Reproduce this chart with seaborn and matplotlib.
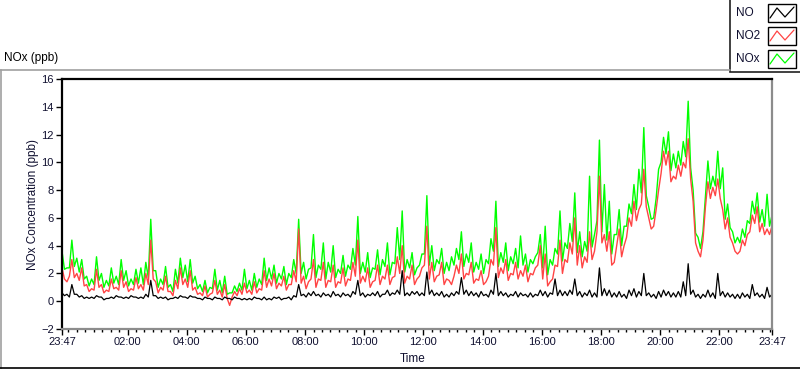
import numpy as np
import pandas as pd
import matplotlib
matplotlib.use("Agg")
import matplotlib.pyplot as plt
import seaborn as sns
from matplotlib.lines import Line2D
from matplotlib.patches import Rectangle

#DATA---------
# readings every 5 minutes, starting 23:47
no2 = [2.4, 1.6, 1.4, 1.8, 3.0, 1.7, 2.0, 1.5, 2.4, 1.1, 1.2, 0.7,
       0.9, 0.8, 2.3, 1.0, 1.2, 0.6, 0.8, 0.7, 1.6, 0.9, 1.0, 0.8,
       2.2, 1.0, 1.4, 0.7, 0.9, 0.8, 1.7, 0.9, 1.2, 0.8, 2.0, 1.2,
       4.4, 1.6, 1.4, 0.6, 1.0, 0.8, 1.8, 0.7, 0.7, 0.4, 1.5, 0.9,
       2.4, 1.2, 1.6, 1.0, 2.2, 0.8, 1.0, 0.5, 0.6, 0.4, 1.1, 0.3,
       0.5, 0.6, 1.5, 0.5, 0.8, 0.3, 1.2, 0.2, -0.3, 0.3, 0.7, 0.4,
       0.9, 0.5,
       1.3, 0.6, 0.8, 0.5, 1.4, 0.6, 0.9, 0.8, 2.2, 1.0, 1.6, 1.1,
       2.0, 0.9, 1.3, 1.1, 1.8, 0.8, 1.2, 1.2, 2.2, 1.4, 5.2, 1.3,
       1.8, 0.9, 1.4, 1.6, 3.0, 1.0, 1.6, 1.5, 2.8, 1.0, 1.5, 1.4,
       2.6, 1.0, 1.4, 1.3, 2.4, 1.1, 1.6, 1.5, 2.8, 1.8, 4.4, 1.3,
       1.8, 1.4, 2.4, 1.0, 1.4, 1.5, 2.6, 1.2, 1.8, 1.6, 2.6, 1.2,
       1.7, 1.8, 3.2, 2.0, 4.0, 1.3, 1.8, 1.6, 2.6, 1.2,
       1.6, 1.8, 2.4, 2.6, 5.4, 1.6, 2.8, 1.4, 1.8, 1.9, 2.8, 1.2,
       1.6, 1.5, 1.2, 1.8, 2.6, 2.0, 3.4, 1.6, 2.0, 1.9, 2.8, 1.3,
       1.6, 1.5, 2.2, 1.2, 1.4, 1.8, 3.0, 2.6, 5.3, 1.7, 2.4, 2.0,
       3.0, 1.5, 2.0, 1.9, 2.8, 1.6, 2.2, 1.8, 2.6, 1.4, 2.0, 1.9,
       2.4, 2.6, 4.0, 1.6, 3.4, 1.1, 1.4, 1.6, 2.6, 2.5, 4.4, 2.0,
       3.0, 2.8, 4.2, 3.4, 6.0, 2.6, 4.0, 2.4, 3.2, 2.8, 5.0, 3.0,
       3.6, 5.0, 9.0, 4.2, 4.8, 3.6, 5.0, 2.6, 2.8, 4.0, 5.2, 3.2,
       4.0, 4.6, 6.0, 5.4, 7.2, 5.8, 6.6, 7.0, 9.5, 6.8, 6.0, 5.2,
       5.4, 6.6, 8.0, 9.2, 10.8, 9.8, 10.8, 8.6, 9.0, 8.8, 9.8, 9.0,
       10.0, 9.6, 11.7, 8.8, 7.2, 4.2, 3.6, 3.2, 4.4, 6.8, 8.6, 7.4,
       8.2, 7.6, 8.8, 7.4, 6.6, 5.2, 6.0, 4.6, 4.2, 3.6, 3.4, 3.6,
       4.4, 4.0, 4.8, 5.0, 6.2, 5.6, 6.8, 5.0, 5.6, 4.8, 5.2, 4.8,
       5.4]

nox = [3.6, 2.3, 2.4, 2.4, 4.4, 2.5, 3.1, 2.1, 3.0, 1.6, 1.8, 1.1,
       1.6, 1.2, 3.2, 1.5, 2.0, 1.0, 1.5, 1.1, 2.4, 1.3, 1.8, 1.2,
       3.0, 1.5, 2.2, 1.1, 1.6, 1.2, 2.3, 1.3, 2.4, 1.2, 2.8, 1.7,
       5.9, 2.2, 2.2, 1.0, 1.6, 1.2, 2.5, 1.0, 1.2, 0.7, 2.3, 1.3,
       3.1, 1.7, 2.6, 1.4, 3.0, 1.3, 1.8, 0.9, 1.2, 0.7, 1.5, 0.6,
       1.0, 0.9, 2.3, 0.8, 1.5, 0.6, 1.8, 0.5, 0.6, 0.6, 1.1, 0.7,
       1.3, 0.8,
       2.3, 0.9, 1.5, 0.8, 2.0, 1.0, 1.6, 1.2, 3.1, 1.5, 2.4, 1.6,
       2.6, 1.3, 2.0, 1.6, 2.5, 1.2, 2.0, 1.7, 3.0, 2.0, 5.9, 2.0,
       2.8, 1.6, 2.3, 2.4, 4.8, 1.7, 2.6, 2.3, 4.2, 1.6, 2.8, 2.1,
       4.0, 1.7, 2.3, 2.0, 3.3, 1.8, 2.6, 2.3, 3.8, 2.6, 6.1, 2.0,
       2.8, 2.1, 3.5, 1.7, 2.4, 2.3, 3.7, 1.9, 3.0, 2.5, 4.2, 1.9,
       2.8, 2.7, 5.3, 3.0, 6.5, 2.1, 3.0, 2.4, 3.5, 1.9,
       2.4, 2.6, 3.4, 3.4, 7.6, 2.6, 4.0, 2.2, 3.0, 2.7, 3.8, 2.0,
       2.8, 2.2, 3.2, 2.6, 3.8, 3.0, 5.0, 2.5, 3.4, 2.8, 4.2, 2.1,
       2.8, 2.3, 3.4, 2.0, 3.0, 2.7, 4.5, 3.6, 7.2, 2.5, 3.5, 2.8,
       4.2, 2.2, 3.2, 2.7, 3.8, 2.4, 4.7, 2.6, 3.4, 2.1, 3.0, 2.7,
       3.2, 3.5, 4.8, 2.4, 5.4, 1.9, 3.0, 2.6, 3.8, 3.4, 6.5, 2.9,
       4.2, 3.8, 5.6, 4.3, 7.8, 3.5, 5.0, 3.2, 4.3, 3.6, 9.0, 3.9,
       4.8, 5.8, 11.6, 5.0, 8.4, 4.4, 7.2, 3.4, 4.8, 4.8, 6.6, 4.0,
       5.4, 5.4, 7.0, 6.3, 8.4, 6.6, 9.5, 7.8, 12.5, 7.6, 6.8, 5.9,
       6.0, 7.4, 9.5, 10.0, 11.8, 10.6, 12.2, 9.4, 10.6, 9.6, 10.8, 9.8,
       11.5, 10.4, 14.4, 9.6, 8.0, 4.9, 4.6, 3.8, 5.0, 7.5, 10.1, 8.1,
       9.0, 8.3, 10.8, 8.1, 9.6, 5.9, 7.0, 5.3, 5.0, 4.2, 4.6, 4.2,
       5.2, 4.6, 5.8, 5.6, 7.2, 6.3, 7.8, 5.7, 6.6, 5.4, 7.7, 5.4,
       6.2]

no = [0.6, 0.4, 0.5, 0.3, 1.2, 0.5, 0.5, 0.3, 0.4, 0.2, 0.3, 0.2,
      0.3, 0.2, 0.4, 0.3, 0.3, 0.1, 0.2, 0.2, 0.3, 0.2, 0.4, 0.3,
      0.3, 0.2, 0.3, 0.2, 0.4, 0.3, 0.3, 0.2, 0.3, 0.2, 0.5, 0.3,
      1.5, 0.4, 0.4, 0.2, 0.3, 0.2, 0.3, 0.1, 0.2, 0.2, 0.3, 0.2,
      0.4, 0.3, 0.3, 0.2, 0.4, 0.3, 0.3, 0.2, 0.2, 0.1, 0.3, 0.2,
      0.2, 0.1, 0.3, 0.2, 0.2, 0.1, 0.3, 0.2, 0.2, 0.1, 0.3, 0.2,
      0.2, 0.1,
      0.2, 0.1, 0.2, 0.1, 0.3, 0.2, 0.2, 0.1, 0.3, 0.1, 0.2, 0.1,
      0.3, 0.2, 0.3, 0.1, 0.2, 0.2, 0.3, 0.1, 0.4, 0.3, 1.2, 0.4,
      0.5, 0.3, 0.6, 0.4, 0.7, 0.4, 0.5, 0.3, 0.6, 0.4, 0.5, 0.3,
      0.7, 0.4, 0.5, 0.3, 0.6, 0.4, 0.5, 0.3, 0.7, 0.5, 1.5, 0.4,
      0.6, 0.3, 0.5, 0.4, 0.6, 0.4, 0.7, 0.3, 0.5, 0.5, 0.8, 0.4,
      0.6, 0.5, 0.8, 0.5, 2.2, 0.4, 0.6, 0.4, 0.7, 0.5,
      0.7, 0.4, 0.6, 0.4, 2.1, 0.5, 0.8, 0.4, 0.6, 0.4, 0.7, 0.3,
      0.5, 0.3, 0.6, 0.4, 0.7, 0.5, 1.7, 0.5, 0.8, 0.4, 0.7, 0.4,
      0.6, 0.3, 0.7, 0.4, 0.5, 0.3, 0.8, 0.5, 2.0, 0.4, 0.7, 0.4,
      0.6, 0.3, 0.5, 0.4, 0.7, 0.3, 0.6, 0.4, 0.5, 0.3, 0.6, 0.3,
      0.5, 0.4, 0.8, 0.4, 0.7, 0.3, 0.6, 0.5, 1.6, 0.4, 0.8, 0.4,
      0.7, 0.4, 0.8, 0.5, 1.6, 0.4, 0.7, 0.3, 0.6, 0.4, 0.8, 0.3,
      0.6, 0.3, 2.4, 0.4, 0.9, 0.4, 0.8, 0.3, 0.6, 0.3, 0.7, 0.3,
      0.5, 0.2, 0.8, 0.4, 0.9, 0.3, 0.7, 0.4, 2.0, 0.4, 0.6, 0.3,
      0.5, 0.2, 0.7, 0.3, 0.8, 0.4, 0.7, 0.3, 0.6, 0.3, 0.7, 0.3,
      1.4, 0.4, 2.7, 0.5, 0.8, 0.3, 0.5, 0.2, 0.5, 0.3, 0.8, 0.3,
      0.6, 0.2, 2.0, 0.4, 0.7, 0.3, 0.6, 0.3, 0.5, 0.2, 0.5, 0.2,
      0.6, 0.3, 0.5, 0.2, 1.2, 0.4, 0.6, 0.3, 0.5, 0.2, 1.0, 0.3,
      0.5]

tick_labels = ["23:47", "02:00", "04:00", "06:00", "08:00", "10:00", "12:00",
               "14:00", "16:00", "18:00", "20:00", "22:00", "23:47"]
y_ticks = [-2, 0, 2, 4, 6, 8, 10, 12, 14, 16]

#DATAFRAME-------
hours = np.arange(len(nox)) / 12.0
df = pd.DataFrame({"hours": hours, "NO": no, "NO2": no2, "NOx": nox})

#PLOT--------
sns.set_style("white")
plt.rcParams["font.family"] = ["Liberation Sans", "DejaVu Sans"]
txt = "#101030"

fig = plt.figure(figsize=(8, 3.69), dpi=100)
ax = fig.add_axes([62 / 800, 40 / 369, 710 / 800, 250 / 369])

sns.lineplot(data=df, x="hours", y="NOx", color="#00ff00", lw=1.0, ax=ax)
sns.lineplot(data=df, x="hours", y="NO2", color="#ff4444", lw=1.0, ax=ax)
sns.lineplot(data=df, x="hours", y="NO", color="black", lw=0.9, ax=ax)

ax.set_xlim(0, 24)
ax.set_ylim(-2, 16)

# major ticks: start, every 2h from 02:00, end
first = 2 + 13 / 60
majors = [0] + [first + 2 * i for i in range(11)] + [24]
ax.set_xticks(majors)
ax.set_xticklabels(tick_labels)
minors = [first + j * 2 / 7 for j in range(-7, 78)]
ax.set_xticks([m for m in minors if 0 < m < 24], minor=True)
ax.set_yticks(y_ticks)
ax.set_xlabel("")
ax.set_ylabel("")

ax.tick_params(axis="both", which="major", direction="out", length=4, width=1,
               color="black", labelsize=8, labelcolor=txt, pad=2,
               bottom=True, left=True)
ax.tick_params(axis="x", which="minor", direction="out", length=2.5, width=1,
               color="black", bottom=True)

for side in ["left", "top"]:
    ax.spines[side].set_color("black")
    ax.spines[side].set_linewidth(1.6)
for side in ["right", "bottom"]:
    ax.spines[side].set_color("#8c8c8c")
    ax.spines[side].set_linewidth(1.6)

fig.text(33 / 800, 1 - 204 / 369, "NOx Concentration (ppb)", rotation=90,
         ha="center", va="center", fontsize=8.5, color=txt)
fig.text(413 / 800, 1 - 359 / 369, "Time", ha="center", va="center",
         fontsize=8.5, color=txt)
fig.text(4 / 800, 1 - 58 / 369, "NOx (ppb)", ha="left", va="center",
         fontsize=8.5, color="black")

# panel border
tf = fig.transFigure
fig.add_artist(Line2D([0, 730 / 800], [1 - 69.5 / 369] * 2, color="#a0a0a0", lw=1.2, transform=tf))
fig.add_artist(Line2D([0.6 / 800] * 2, [0, 1 - 69.5 / 369], color="#a0a0a0", lw=1.2, transform=tf))
fig.add_artist(Line2D([0, 1], [0.6 / 369] * 2, color="black", lw=1.2, transform=tf))

# legend box
fig.add_artist(Rectangle((730 / 800, 1 - 72 / 369), 72 / 800, 74 / 369, facecolor="white",
                         edgecolor="#202020", lw=1.2, transform=tf))
legend_items = [("NO", "black", 13), ("NO2", "#ff4444", 36), ("NOx", "#00ff00", 59)]
for name, col, yc in legend_items:
    fig.text(736 / 800, 1 - yc / 369, name, ha="left", va="center", fontsize=8.5, color=txt)
    fig.add_artist(Rectangle((768 / 800, 1 - (yc + 9) / 369), 28 / 800, 18 / 369,
                             facecolor="white", edgecolor="black", lw=1, transform=tf))
    zx = np.array([770, 777, 785, 794]) / 800
    zy = 1 - np.array([yc + 5, yc - 5, yc + 4, yc - 6]) / 369
    fig.add_artist(Line2D(zx, zy, color=col, lw=0.9, transform=tf))

fig.savefig("out.png", dpi=100)
